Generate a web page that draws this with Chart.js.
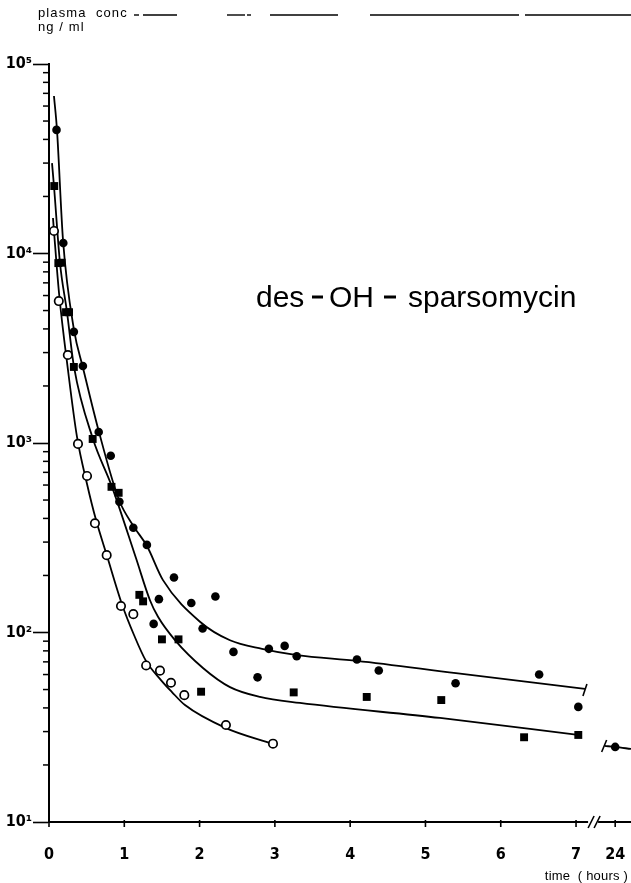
<!DOCTYPE html>
<html>
<head>
<meta charset="utf-8">
<script src="https://cdn.jsdelivr.net/npm/chart.js@4.4.1/dist/chart.umd.min.js"></script>
<style>
  html, body { margin: 0; padding: 0; background: #fff; }
  #wrap { width: 631px; height: 883px; position: relative; }
</style>
</head>
<body>
<div id="wrap"><canvas id="c" width="631" height="883"></canvas></div>
<script>
// des-OH-sparsomycin: plasma concentration (ng/ml) against time (hours), three patients

// filled circles
const circleHours = [0.10, 0.19, 0.33, 0.45, 0.66, 0.82, 0.935, 1.12, 1.30, 1.66, 1.46, 1.89, 2.21, 1.39, 2.04, 2.45, 2.77, 2.92, 3.13, 3.29, 4.09, 4.38, 5.40, 6.51, 7.03, 24];
const circleConc  = [44900, 11350, 3860, 2550, 1143, 857, 490, 357, 290, 195, 150, 143, 155, 111, 105, 79, 58, 82, 85, 75, 72, 63, 54, 60, 40.5, 24.9];

// filled squares
const squareHours = [0.07, 0.124, 0.168, 0.226, 0.266, 0.33, 0.58, 0.83, 0.925, 1.20, 1.25, 1.50, 1.72, 2.02, 3.25, 4.22, 5.21, 6.31, 7.03];
const squareConc  = [22700, 8900, 8940, 4900, 4900, 2520, 1050, 587, 546, 158, 146, 92, 92, 48.7, 48.3, 45.7, 44, 28, 28.8];

// open circles
const openHours = [0.066, 0.13, 0.25, 0.385, 0.505, 0.61, 0.766, 0.956, 1.12, 1.29, 1.474, 1.62, 1.797, 2.35, 2.975];
const openConc  = [13150, 5610, 2914, 989, 670, 377, 256, 138, 125, 67, 62.9, 54.3, 46.7, 32.5, 25.9];

// fitted curves
const topCurveHours = [0.066, 0.106, 0.186, 0.332, 0.452, 0.664, 0.93, 1.129, 1.301, 1.514, 2.005, 2.404, 2.829, 3.293, 4.09, 5.405, 7.118];
const topCurveConc  = [67800, 44900, 11780, 3950, 2490, 1143, 500, 361, 286, 189, 114, 91, 82, 76, 70.8, 61, 50.4];

const midCurveHours = [0.040, 0.066, 0.146, 0.239, 0.332, 0.584, 0.837, 1.155, 1.341, 1.448, 1.673, 2.045, 2.404, 2.802, 3.333, 5.193, 7.025];
const midCurveConc  = [30000, 22700, 8910, 4910, 2520, 1050, 587, 247, 148, 121, 91.2, 65, 51.5, 45.7, 42.5, 35.4, 28.8];

const lowCurveHours = [0.053, 0.066, 0.133, 0.252, 0.372, 0.505, 0.624, 0.770, 0.969, 1.129, 1.288, 1.487, 1.633, 1.806, 2.351, 2.975];
const lowCurveConc  = [15400, 13150, 6190, 2430, 1076, 608, 393, 254, 141, 97, 70.8, 56.1, 48.5, 41.4, 31.3, 25.8];

// short piece of curve drawn round the 24 h sample
const lateCurveHours = [23.0, 24.0, 25.5];
const lateCurveConc  = [25.2, 24.9, 24.3];

// axis ticks
const xTickHours = [0, 1, 2, 3, 4, 5, 6, 7, 24];
const xTickLabels = ['0', '1', '2', '3', '4', '5', '6', '7', '24'];
const yDecades = [10, 100, 1000, 10000, 100000];
const yDecadeLabels = ['10\u00b9', '10\u00b2', '10\u00b3', '10\u2074', '10\u2075'];

// the time axis is broken after 7 h; 24 h sits just past the break
const BREAK_AT = 7.2;
const DAY_POS = 7.52;
function toAxis(h) { return h <= BREAK_AT ? h : DAY_POS + (h - 24) * 0.14; }
function pts(hours, conc) { return hours.map((h, i) => ({ x: toAxis(h), y: conc[i] })); }

const minorTicks = [];
for (const d of yDecades.slice(0, -1)) for (let m = 2; m <= 9; m++) minorTicks.push(d * m);

const labelFont = '"Liberation Sans Narrow", "DejaVu Sans Condensed", sans-serif';
const textFont = '"Liberation Sans", Arial, sans-serif';

const curveStyle = { type: 'line', borderColor: '#000', borderWidth: 1.8, pointRadius: 0,
  fill: false, cubicInterpolationMode: 'monotone', order: 2 };

const decor = {
  id: 'decor',
  afterDraw(chart) {
    const { ctx, chartArea: a, scales: { x, y } } = chart;
    ctx.save();
    ctx.strokeStyle = '#000';
    ctx.fillStyle = '#000';

    // minor ticks on the log axis
    ctx.lineWidth = 1.5;
    for (const v of minorTicks) {
      const py = y.getPixelForValue(v);
      ctx.beginPath(); ctx.moveTo(a.left - 6, py); ctx.lineTo(a.left, py); ctx.stroke();
    }

    // short ticks on the time axis
    ctx.lineWidth = 1.6;
    for (const h of xTickHours) {
      const px = x.getPixelForValue(toAxis(h));
      ctx.beginPath(); ctx.moveTo(px, a.bottom - 2); ctx.lineTo(px, a.bottom + 5); ctx.stroke();
    }

    // break in the time axis
    const bx = x.getPixelForValue(BREAK_AT);
    ctx.fillStyle = '#fff';
    ctx.fillRect(bx - 3, a.bottom - 3, 10, 6);
    ctx.fillStyle = '#000';
    for (const dx of [0, 6]) {
      ctx.beginPath(); ctx.moveTo(bx + dx - 3, a.bottom + 6); ctx.lineTo(bx + dx + 3, a.bottom - 6); ctx.stroke();
    }

    // end marks where the curves are cut by the break
    const topEnd = chart.getDatasetMeta(3).data.slice(-1)[0];
    ctx.beginPath(); ctx.moveTo(topEnd.x - 2, topEnd.y + 7); ctx.lineTo(topEnd.x + 2, topEnd.y - 5); ctx.stroke();
    const lateStart = chart.getDatasetMeta(6).data[0];
    ctx.beginPath(); ctx.moveTo(lateStart.x - 3, lateStart.y + 6); ctx.lineTo(lateStart.x + 2, lateStart.y - 6); ctx.stroke();

    // axis captions
    ctx.font = '13px ' + textFont;
    ctx.textBaseline = 'middle';
    ctx.textAlign = 'left';
    ctx.letterSpacing = '1.1px';
    ctx.fillText('plasma  conc', 38, 13);
    ctx.fillText('ng / ml', 38, 27);
    ctx.textAlign = 'right';
    ctx.letterSpacing = '0.2px';
    ctx.fillText('time  ( hours )', 628, 876);
    ctx.letterSpacing = '0px';

    // header rule
    ctx.lineWidth = 1.4;
    for (const [x0, x1] of [[134, 139], [143, 177], [227, 245], [247, 251], [270, 338], [370, 519], [525, 631]]) {
      ctx.beginPath(); ctx.moveTo(x0, 15); ctx.lineTo(x1, 15); ctx.stroke();
    }

    // compound name
    ctx.font = '30px ' + textFont;
    ctx.textAlign = 'left';
    ctx.textBaseline = 'alphabetic';
    ctx.fillText('des', 256, 307);
    ctx.fillText('OH', 329, 307);
    ctx.fillText('sparsomycin', 408, 307);
    ctx.lineWidth = 3;
    for (const [x0, x1] of [[312, 323], [384, 396]]) {
      ctx.beginPath(); ctx.moveTo(x0, 297); ctx.lineTo(x1, 297); ctx.stroke();
    }
    ctx.restore();
  }
};

new Chart(document.getElementById('c'), {
  type: 'scatter',
  data: {
    datasets: [
      { label: 'patient 1', data: pts(circleHours, circleConc), pointStyle: 'circle', pointRadius: 4.3,
        backgroundColor: '#000', borderColor: '#000', borderWidth: 0, order: 0 },
      { label: 'patient 2', data: pts(squareHours, squareConc), pointStyle: 'rect', pointRadius: 5.6,
        backgroundColor: '#000', borderColor: '#000', borderWidth: 0, order: 0 },
      { label: 'patient 3', data: pts(openHours, openConc), pointStyle: 'circle', pointRadius: 4.2,
        backgroundColor: '#fff', borderColor: '#000', borderWidth: 1.7, order: 0 },
      Object.assign({ label: 'fit 1', data: pts(topCurveHours, topCurveConc) }, curveStyle),
      Object.assign({ label: 'fit 2', data: pts(midCurveHours, midCurveConc) }, curveStyle),
      Object.assign({ label: 'fit 3', data: pts(lowCurveHours, lowCurveConc) }, curveStyle),
      Object.assign({ label: 'fit 1, 24 h', data: pts(lateCurveHours, lateCurveConc) }, curveStyle)
    ]
  },
  options: {
    responsive: false,
    animation: false,
    devicePixelRatio: 1,
    layout: { autoPadding: false, padding: { top: 64, right: 0, bottom: 0, left: 0 } },
    plugins: { legend: { display: false }, tooltip: { enabled: false } },
    scales: {
      x: {
        type: 'linear', min: 0, max: 7.73,
        afterBuildTicks(s) { s.ticks = xTickHours.map(h => ({ value: toAxis(h) })); },
        afterFit(s) { s.height = 61; },
        ticks: {
          autoSkip: false, maxRotation: 0, padding: 2, color: '#000',
          font: { family: labelFont, size: 16, weight: 'bold' },
          callback(v) { const i = xTickHours.findIndex(h => Math.abs(toAxis(h) - v) < 1e-6); return i >= 0 ? xTickLabels[i] : ''; }
        },
        grid: { drawOnChartArea: false, tickLength: 21, tickColor: 'rgba(0,0,0,0)' },
        border: { display: true, color: '#000', width: 2 }
      },
      y: {
        type: 'logarithmic', min: 10, max: 100000,
        afterBuildTicks(s) { s.ticks = yDecades.map(v => ({ value: v, major: true })); },
        afterFit(s) { s.width = 49; },
        ticks: {
          autoSkip: false, padding: 1, color: '#000',
          font: { family: labelFont, size: 16, weight: 'bold' },
          callback(v) { const i = yDecades.indexOf(v); return i >= 0 ? yDecadeLabels[i] : ''; }
        },
        grid: { drawOnChartArea: false, tickLength: 16, tickColor: '#000', tickWidth: 1.6 },
        border: { display: true, color: '#000', width: 2 }
      }
    }
  },
  plugins: [decor]
});
</script>
</body>
</html>
